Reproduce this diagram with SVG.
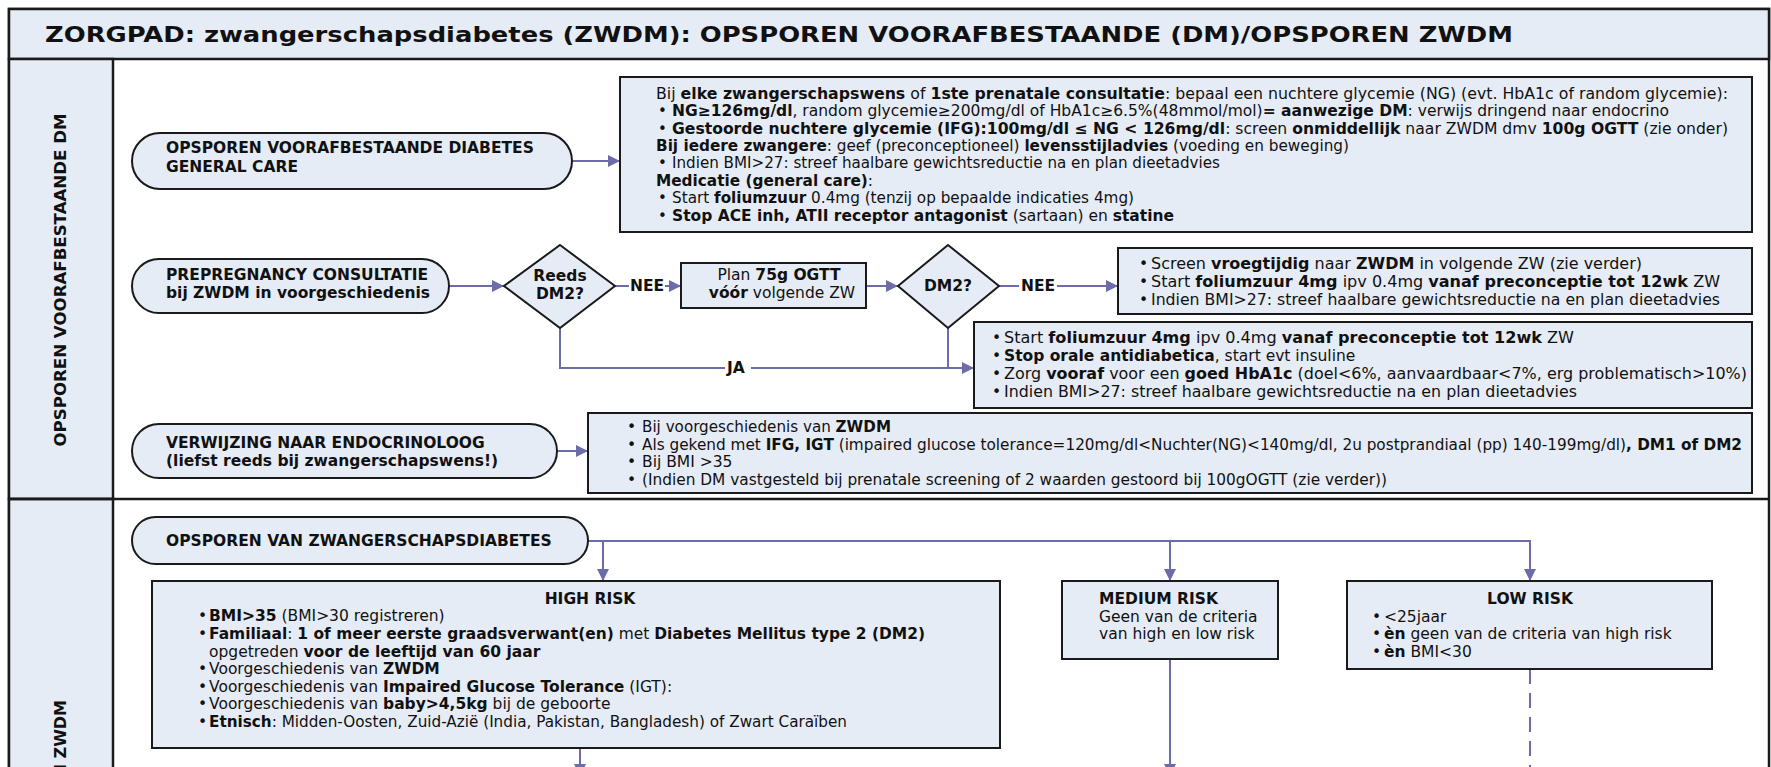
<svg xmlns="http://www.w3.org/2000/svg" width="1771" height="767" viewBox="0 0 1771 767">
<style>
text{font-family:"DejaVu Sans",Verdana,sans-serif;font-size:15.5px;fill:#111}
.s{font-size:15px}
.b{font-weight:bold}
.box{fill:#E6ECF6;stroke:#1a1a1a;stroke-width:2}
.band{fill:#E6ECF6;stroke:#1a1a1a;stroke-width:2.5}
.conn{fill:none;stroke:#6C6CA8;stroke-width:2}
.dash{fill:none;stroke:#6C6CA8;stroke-width:2;stroke-dasharray:15 9}
.mid{text-anchor:middle}
</style>
<defs>
<marker id="ah" viewBox="0 0 10 10" refX="10" refY="5" markerWidth="12" markerHeight="12" markerUnits="userSpaceOnUse" orient="auto">
<path d="M0,0 L10,5 L0,10 z" fill="#6C6CA8"/>
</marker>
</defs>
<rect x="0" y="0" width="1771" height="767" fill="#fff"/>
<g id="frame">
<rect x="9" y="9" width="1760" height="770" fill="#fff" stroke="#1a1a1a" stroke-width="2.5"/>
<rect class="band" x="9" y="9" width="1760" height="50"/>
<text class="b" x="45" y="42" style="font-size:21px" textLength="1468" lengthAdjust="spacingAndGlyphs">ZORGPAD: zwangerschapsdiabetes (ZWDM): OPSPOREN VOORAFBESTAANDE (DM)/OPSPOREN ZWDM</text>
<rect class="band" x="9" y="59" width="104" height="440"/>
<rect class="band" x="9" y="499" width="104" height="280"/>
<line x1="9" y1="499" x2="1769" y2="499" stroke="#1a1a1a" stroke-width="2.5"/>
<text class="b mid" transform="translate(66,280) rotate(-90)" style="font-size:16px" textLength="333" lengthAdjust="spacingAndGlyphs">OPSPOREN VOORAFBESTAANDE DM</text>
<text class="b" transform="translate(66,700) rotate(-90)" style="font-size:16px;text-anchor:end">OPSPOREN ZWDM</text>
</g>
<g id="connectors">
<path class="conn" d="M572,161 H620" marker-end="url(#ah)"/>
<path class="conn" d="M449,286 H504" marker-end="url(#ah)"/>
<path class="conn" d="M615,286 H629"/>
<path class="conn" d="M665,286 H681" marker-end="url(#ah)"/>
<path class="conn" d="M866,286 H898" marker-end="url(#ah)"/>
<path class="conn" d="M999,286 H1019"/>
<path class="conn" d="M1057,286 H1118" marker-end="url(#ah)"/>
<path class="conn" d="M560,328 V368 H725"/>
<path class="conn" d="M751,368 H974" marker-end="url(#ah)"/>
<path class="conn" d="M948,328 V368"/>
<path class="conn" d="M557,451 H588" marker-end="url(#ah)"/>
<path class="conn" d="M588,541 H1530 V581" marker-end="url(#ah)"/>
<path class="conn" d="M603,541 V581" marker-end="url(#ah)"/>
<path class="conn" d="M1170,541 V581" marker-end="url(#ah)"/>
<path class="conn" d="M580,748 V776" marker-end="url(#ah)"/>
<path class="conn" d="M1170,659 V776" marker-end="url(#ah)"/>
<path class="dash" d="M1530,669 V767"/>
<text class="b" x="630" y="291">NEE</text>
<text class="b" x="1021" y="291">NEE</text>
<text class="b" x="727" y="373">JA</text>
</g>
<g id="n-general">
<rect class="box" x="132" y="133" width="440" height="56" rx="28"/>
<text class="b" x="166" y="153">OPSPOREN VOORAFBESTAANDE DIABETES</text>
<text class="b" x="166" y="172">GENERAL CARE</text>
</g>
<g id="n-elke">
<rect class="box" x="620" y="77" width="1132" height="155"/>
<text class="s" x="656" y="99" textLength="1072" lengthAdjust="spacingAndGlyphs">Bij <tspan class="b">elke zwangerschapswens</tspan> of <tspan class="b">1ste prenatale consultatie</tspan>: bepaal een nuchtere glycemie (NG) (evt. HbA1c of random glycemie):</text>
<text class="s" x="658" y="116">•</text><text class="s" x="672" y="116" textLength="997" lengthAdjust="spacingAndGlyphs"><tspan class="b">NG≥126mg/dl</tspan>, random glycemie≥200mg/dl of HbA1c≥6.5%(48mmol/mol)<tspan class="b">= aanwezige DM</tspan>: verwijs dringend naar endocrino</text>
<text class="s" x="658" y="134">•</text><text class="s" x="672" y="134" textLength="1056" lengthAdjust="spacingAndGlyphs"><tspan class="b">Gestoorde nuchtere glycemie (IFG):100mg/dl ≤ NG &lt; 126mg/dl</tspan>: screen <tspan class="b">onmiddellijk</tspan> naar ZWDM dmv <tspan class="b">100g OGTT</tspan> (zie onder)</text>
<text class="s" x="656" y="151" textLength="693" lengthAdjust="spacingAndGlyphs"><tspan class="b">Bij iedere zwangere</tspan>: geef (preconceptioneel) <tspan class="b">levensstijladvies</tspan> (voeding en beweging)</text>
<text class="s" x="658" y="168">•</text><text class="s" x="672" y="168" textLength="548" lengthAdjust="spacingAndGlyphs">Indien BMI&gt;27: streef haalbare gewichtsreductie na en plan dieetadvies</text>
<text class="s" x="656" y="186" textLength="217" lengthAdjust="spacingAndGlyphs"><tspan class="b">Medicatie (general care)</tspan>:</text>
<text class="s" x="658" y="203">•</text><text class="s" x="672" y="203" textLength="462" lengthAdjust="spacingAndGlyphs">Start <tspan class="b">foliumzuur</tspan> 0.4mg (tenzij op bepaalde indicaties 4mg)</text>
<text class="s" x="658" y="221">•</text><text class="s" x="672" y="221" textLength="502" lengthAdjust="spacingAndGlyphs"><tspan class="b">Stop ACE inh, ATII receptor antagonist</tspan> (sartaan) en <tspan class="b">statine</tspan></text>
</g>
<g id="n-prepregnancy">
<rect class="box" x="132" y="259" width="317" height="54" rx="27"/>
<text class="b" x="166" y="280">PREPREGNANCY CONSULTATIE</text>
<text class="b" x="166" y="298">bij ZWDM in voorgeschiedenis</text>
</g>
<g id="n-reeds">
<path class="box" d="M560,245 L615,286 L560,328 L504,286 Z"/>
<text class="b mid" x="560" y="281">Reeds</text>
<text class="b mid" x="560" y="299">DM2?</text>
</g>
<g id="n-plan">
<rect class="box" x="681" y="263" width="185" height="45"/>
<text class="mid" x="779" y="280">Plan <tspan class="b">75g OGTT</tspan></text>
<text class="mid" x="782" y="298"><tspan class="b">vóór</tspan> volgende ZW</text>
</g>
<g id="n-dm2">
<path class="box" d="M948,245 L999,286 L948,328 L898,286 Z"/>
<text class="b mid" x="948" y="291">DM2?</text>
</g>
<g id="n-screen">
<rect class="box" x="1118" y="248" width="634" height="66"/>
<text x="1139" y="269">•</text><text x="1151" y="269" textLength="491" lengthAdjust="spacingAndGlyphs">Screen <tspan class="b">vroegtijdig</tspan> naar <tspan class="b">ZWDM</tspan> in volgende ZW (zie verder)</text>
<text x="1139" y="287">•</text><text x="1151" y="287" textLength="569" lengthAdjust="spacingAndGlyphs">Start <tspan class="b">foliumzuur 4mg</tspan> ipv 0.4mg <tspan class="b">vanaf preconceptie tot 12wk</tspan> ZW</text>
<text x="1139" y="305">•</text><text x="1151" y="305" textLength="569" lengthAdjust="spacingAndGlyphs">Indien BMI&gt;27: streef haalbare gewichtsreductie na en plan dieetadvies</text>
</g>
<g id="n-ja">
<rect class="box" x="974" y="322" width="778" height="86"/>
<text x="992" y="343">•</text><text x="1004" y="343" textLength="570" lengthAdjust="spacingAndGlyphs">Start <tspan class="b">foliumzuur 4mg</tspan> ipv 0.4mg <tspan class="b">vanaf preconceptie tot 12wk</tspan> ZW</text>
<text x="992" y="361">•</text><text x="1004" y="361"><tspan class="b">Stop orale antidiabetica</tspan>, start evt insuline</text>
<text x="992" y="379">•</text><text x="1004" y="379" textLength="743" lengthAdjust="spacingAndGlyphs">Zorg <tspan class="b">vooraf</tspan> voor een <tspan class="b">goed HbA1c</tspan> (doel&lt;6%, aanvaardbaar&lt;7%, erg problematisch&gt;10%)</text>
<text x="992" y="397">•</text><text x="1004" y="397" textLength="573" lengthAdjust="spacingAndGlyphs">Indien BMI&gt;27: streef haalbare gewichtsreductie na en plan dieetadvies</text>
</g>
<g id="n-verwijzing">
<rect class="box" x="132" y="424" width="425" height="54" rx="27"/>
<text class="b" x="166" y="448">VERWIJZING NAAR ENDOCRINOLOOG</text>
<text class="b" x="166" y="466">(liefst reeds bij zwangerschapswens!)</text>
</g>
<g id="n-endo">
<rect class="box" x="588" y="413" width="1164" height="80"/>
<text x="627" y="432">•</text><text x="642" y="432" textLength="249" lengthAdjust="spacingAndGlyphs">Bij voorgeschiedenis van <tspan class="b">ZWDM</tspan></text>
<text x="627" y="450">•</text><text x="642" y="450" textLength="1100" lengthAdjust="spacingAndGlyphs">Als gekend met <tspan class="b">IFG, IGT</tspan> (impaired glucose tolerance=120mg/dl&lt;Nuchter(NG)&lt;140mg/dl, 2u postprandiaal (pp) 140-199mg/dl)<tspan class="b">, DM1 of DM2</tspan></text>
<text x="627" y="467">•</text><text x="642" y="467">Bij BMI &gt;35</text>
<text x="627" y="485">•</text><text x="642" y="485" textLength="745" lengthAdjust="spacingAndGlyphs">(Indien DM vastgesteld bij prenatale screening of 2 waarden gestoord bij 100gOGTT (zie verder))</text>
</g>
<g id="n-opsporen-zwdm">
<rect class="box" x="132" y="517" width="456" height="47" rx="23.5"/>
<text class="b" x="166" y="546">OPSPOREN VAN ZWANGERSCHAPSDIABETES</text>
</g>
<g id="n-high">
<rect class="box" x="152" y="581" width="848" height="167"/>
<text class="b mid" x="590" y="604">HIGH RISK</text>
<text x="198" y="621">•</text><text x="209" y="621"><tspan class="b">BMI&gt;35</tspan> (BMI&gt;30 registreren)</text>
<text x="198" y="639">•</text><text x="209" y="639" textLength="716" lengthAdjust="spacingAndGlyphs"><tspan class="b">Familiaal</tspan>: <tspan class="b">1 of meer eerste graadsverwant(en)</tspan> met <tspan class="b">Diabetes Mellitus type 2  (DM2)</tspan></text>
<text x="209" y="657">opgetreden <tspan class="b">voor de leeftijd van 60 jaar</tspan></text>
<text x="198" y="674">•</text><text x="209" y="674">Voorgeschiedenis van <tspan class="b">ZWDM</tspan></text>
<text x="198" y="692">•</text><text x="209" y="692">Voorgeschiedenis van <tspan class="b">Impaired Glucose Tolerance</tspan> (IGT):</text>
<text x="198" y="709">•</text><text x="209" y="709">Voorgeschiedenis van <tspan class="b">baby&gt;4,5kg</tspan> bij de geboorte</text>
<text x="198" y="727">•</text><text x="209" y="727" textLength="638" lengthAdjust="spacingAndGlyphs"><tspan class="b">Etnisch</tspan>: Midden-Oosten, Zuid-Azië (India, Pakistan, Bangladesh) of Zwart Caraïben</text>
</g>
<g id="n-medium">
<rect class="box" x="1062" y="581" width="216" height="78"/>
<text class="b" x="1099" y="604">MEDIUM RISK</text>
<text x="1099" y="622">Geen van de criteria</text>
<text x="1099" y="639">van high en low risk</text>
</g>
<g id="n-low">
<rect class="box" x="1347" y="581" width="365" height="88"/>
<text class="b mid" x="1530" y="604">LOW RISK</text>
<text x="1372" y="622">•</text><text x="1384" y="622">&lt;25jaar</text>
<text x="1372" y="639">•</text><text x="1384" y="639"><tspan class="b">èn</tspan> geen van de criteria van high risk</text>
<text x="1372" y="657">•</text><text x="1384" y="657"><tspan class="b">èn</tspan> BMI&lt;30</text>
</g>
</svg>
